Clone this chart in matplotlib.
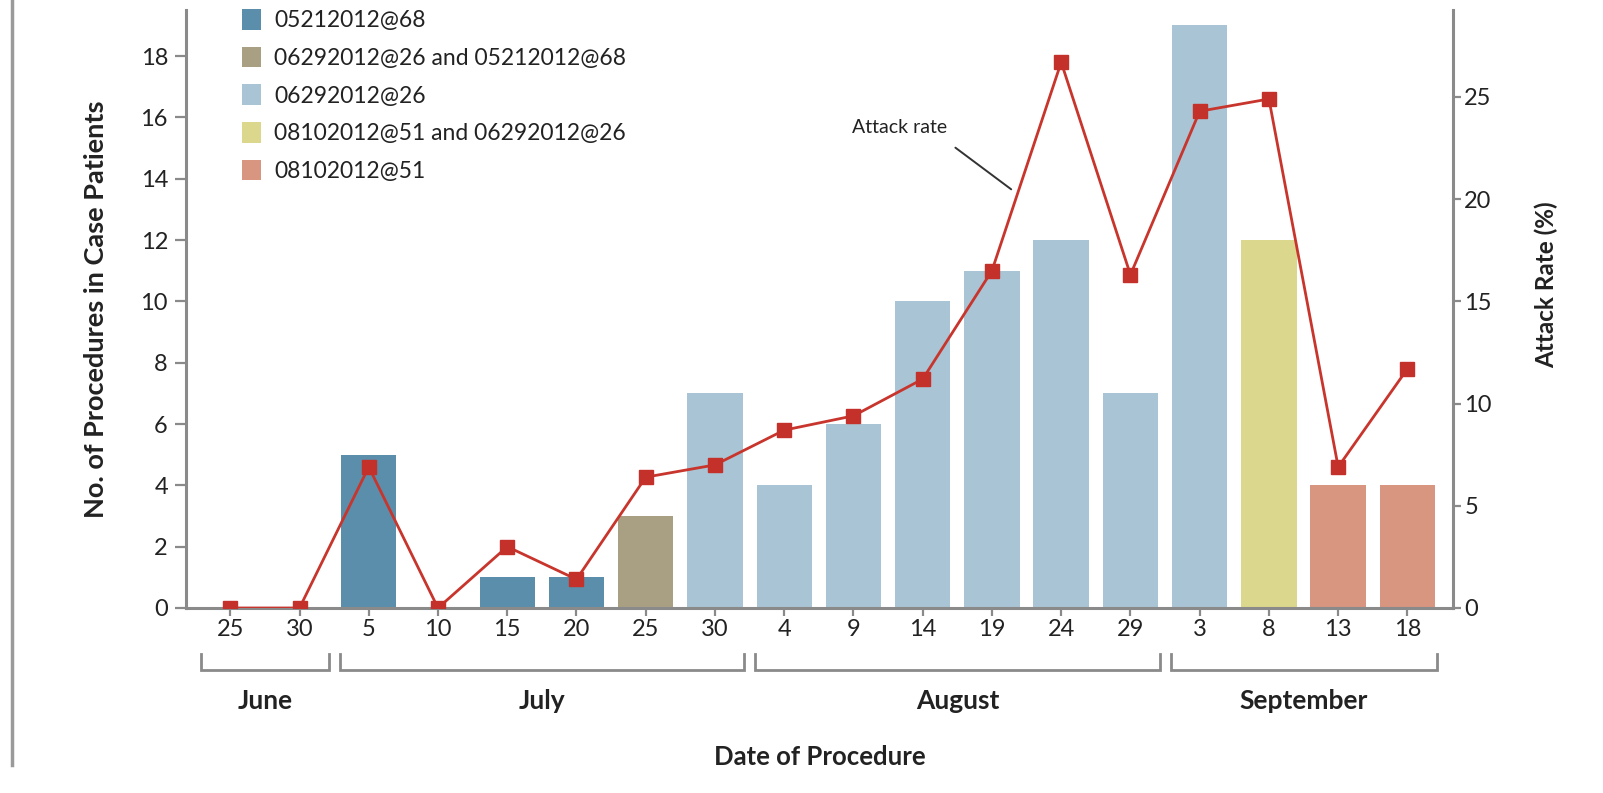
import matplotlib
matplotlib.use("Agg")
import matplotlib.pyplot as plt
from matplotlib.patches import Patch
from matplotlib.lines import Line2D
import matplotlib.transforms as mtransforms

plt.rcParams['font.family'] = ['Lato', 'DejaVu Sans']

# --- data -------------------------------------------------------------
day_labels = ["25", "30", "5", "10", "15", "20", "25", "30", "4", "9", "14",
              "19", "24", "29", "3", "8", "13", "18"]
months = ["June", "July", "August", "September"]
month_of_day = [0, 0, 1, 1, 1, 1, 1, 1, 2, 2, 2, 2, 2, 2, 3, 3, 3, 3]
procedures = [0, 0, 5, 0, 1, 1, 3, 7, 4, 6, 10, 11, 12, 7, 19, 12, 4, 4]
lot_group = [0, 0, 0, 0, 0, 0, 1, 2, 2, 2, 2, 2, 2, 2, 2, 3, 4, 4]
lot_names = ["05212012@68", "06292012@26 and 05212012@68", "06292012@26",
             "08102012@51 and 06292012@26", "08102012@51"]
attack_rate = [0, 0, 6.9, 0, 3.0, 1.4, 6.4, 7.0, 8.7, 9.4, 11.2, 16.5,
               26.7, 16.3, 24.3, 24.9, 6.9, 11.7]

lot_colors = ["#5b8eaa", "#a99f83", "#a9c4d4", "#dbd78c", "#d8957f"]
red = "#c8352c"
axis_gray = "#8a8a8a"
text_color = "#222222"

fig = plt.figure(figsize=(16.03, 7.93), dpi=100)
ax = fig.add_axes([0.116, 0.2333, 0.7905, 0.754])
ax2 = ax.twinx()

x = list(range(len(day_labels)))
ax.bar(x, procedures, width=0.8, color=[lot_colors[g] for g in lot_group],
       zorder=2)

ax.set_xlim(-0.64, len(x) - 1 + 0.66)
ax.set_ylim(0, 19.5)
ax2.set_ylim(0, 29.25)

ax2.plot(x, attack_rate, color=red, lw=2.0, marker="s", markersize=10,
         markerfacecolor="#c4302a", markeredgecolor="#c4302a", zorder=5)

# spines and ticks
for a in (ax, ax2):
    a.spines["top"].set_visible(False)
    for s in ("left", "right", "bottom"):
        a.spines[s].set_color(axis_gray)
        a.spines[s].set_linewidth(2.2)
ax.spines["right"].set_visible(False)
ax2.spines["left"].set_visible(False)
ax2.spines["bottom"].set_visible(False)

ax.set_yticks(range(0, 19, 2))
ax2.set_yticks(range(0, 26, 5))
ax.set_xticks(x)
ax.set_xticklabels(day_labels)
ax.tick_params(axis="y", colors=axis_gray, labelcolor=text_color,
               labelsize=17, width=1.6, length=8, pad=5)
ax.tick_params(axis="x", colors=axis_gray, labelcolor=text_color,
               labelsize=17, width=1.6, length=6, pad=2)
ax2.tick_params(axis="y", colors=axis_gray, labelcolor=text_color,
                labelsize=17, width=1.6, length=6, pad=2)

ax.set_ylabel("No. of Procedures in Case Patients", fontsize=19.5,
              fontweight="bold", color=text_color, labelpad=23)
ax2.set_ylabel("Attack Rate (%)", fontsize=17.5, fontweight="bold",
               color=text_color)
ax2.yaxis.set_label_coords(1.064, 0.54)
ax.set_zorder(ax2.get_zorder() - 1)
ax.patch.set_visible(False)

# month brackets beneath the day ticks
trans = mtransforms.blended_transform_factory(ax.transData, ax.transAxes)
x_right = ax.get_xlim()[1]
for m, name in enumerate(months):
    idx = [i for i, mm in enumerate(month_of_day) if mm == m]
    x0 = idx[0] - 0.42
    x1 = min(idx[-1] + 0.42, x_right)
    y_top, y_bot = -0.077, -0.104
    ax.plot([x0, x0, x1, x1], [y_top, y_bot, y_bot, y_top], transform=trans,
            color=axis_gray, lw=2.0, clip_on=False, solid_joinstyle="miter")
    ax.text((x0 + x1) / 2, -0.155, name, transform=trans, ha="center",
            va="center", fontsize=19, fontweight="bold", color=text_color)

ax.text(0.5, -0.25, "Date of Procedure", transform=ax.transAxes, ha="center",
        va="center", fontsize=18.5, fontweight="bold", color=text_color)

# callout for the line
ax2.text(9.66, 23.5, "Attack rate", ha="center", va="center", fontsize=14,
         color=text_color)
ax2.annotate("", xy=(11.31, 20.4), xytext=(10.44, 22.6),
             arrowprops=dict(arrowstyle="-", color="#333333", lw=1.4))

# legend
handles = [Patch(facecolor=c, edgecolor="none") for c in lot_colors]
leg = ax.legend(handles, lot_names, loc="upper left",
                bbox_to_anchor=(0.037, 1.017), frameon=False, fontsize=16.5,
                handlelength=0.85, handleheight=1.0, handletextpad=0.55,
                labelspacing=0.68, borderaxespad=0)
for t in leg.get_texts():
    t.set_color(text_color)

# page frame line at the far left
fig.add_artist(Line2D([0.0077, 0.0077], [0.035, 1.0], color="#9a9a9a",
                      lw=2.5, transform=fig.transFigure))

fig.savefig("out.png", dpi=100, facecolor="white")
